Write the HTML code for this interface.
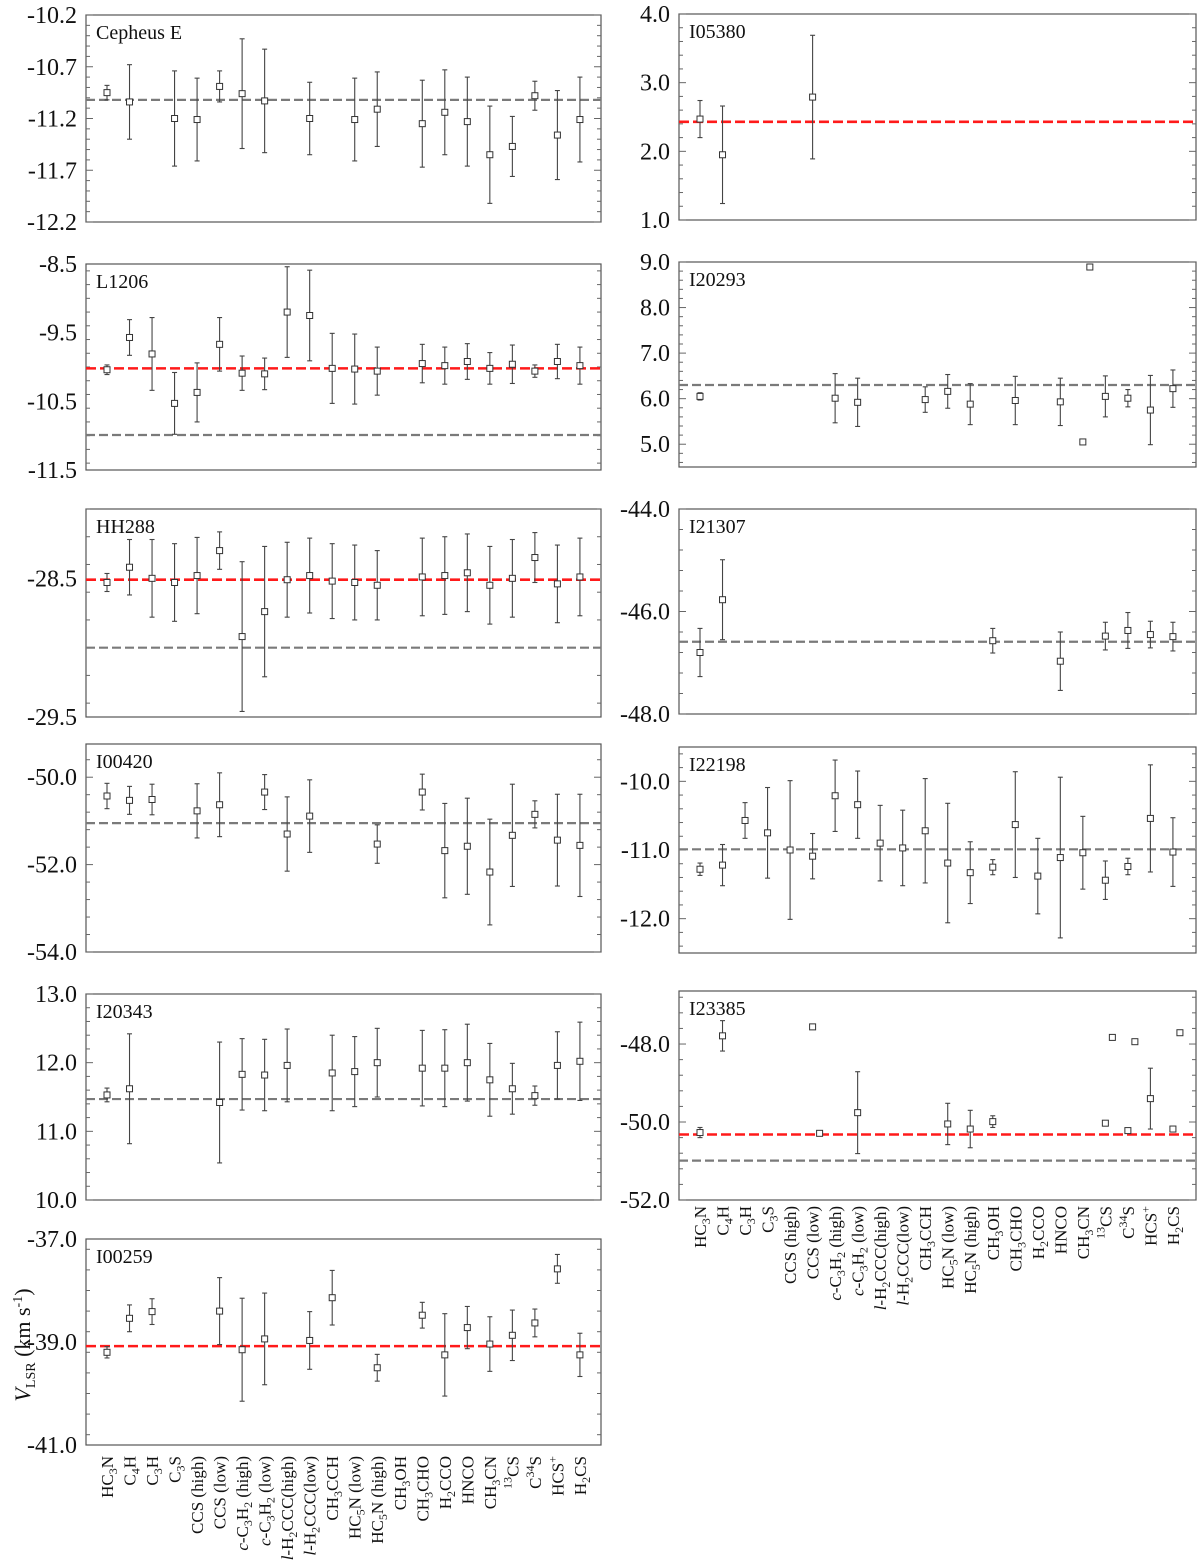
<!DOCTYPE html>
<html><head><meta charset="utf-8">
<style>
html,body{margin:0;padding:0;background:#fff;}
svg{display:block;font-family:"Liberation Serif",serif;}
</style></head>
<body>
<svg id="fig" width="1200" height="1566" viewBox="0 0 1200 1566" xmlns="http://www.w3.org/2000/svg"></svg>
<script>
// ---- categories (shared x axis) ----
const categories = ["HC_3N","C_4H","C_3H","C_3S","CCS (high)","CCS (low)","~c-C_3H_2 (high)","~c-C_3H_2 (low)","~l-H_2CCC(high)","~l-H_2CCC(low)","CH_3CCH","HC_5N (low)","HC_5N (high)","CH_3OH","CH_3CHO","H_2CCO","HNCO","CH_3CN","^{13}CS","C^{34}S","HCS^{+}","H_2CS"];
const N = null;

// ---- Cepheus E ----
const cepVals = [-10.95,-11.04,N,-11.20,-11.21,-10.89,-10.96,-11.03,N,-11.20,N,-11.21,-11.11,N,-11.25,-11.14,-11.23,-11.55,-11.47,-10.98,-11.36,-11.21];
const cepErrs = [0.07,0.36,N,0.46,0.40,0.15,0.53,0.50,N,0.35,N,0.40,0.36,N,0.42,0.41,0.43,0.47,0.29,0.14,0.43,0.41];
const cepTicks = [-10.2,-10.7,-11.2,-11.7,-12.2];
const cepGray = -11.02;

// ---- L1206 ----
const l1206Vals = [-10.04,-9.57,-9.81,-10.53,-10.37,-9.67,-10.09,-10.10,-9.20,-9.25,-10.02,-10.03,-10.06,N,-9.95,-9.98,-9.92,-10.02,-9.96,-10.06,-9.92,-9.98];
const l1206Errs = [0.07,0.26,0.53,0.45,0.43,0.39,0.25,0.23,0.66,0.66,0.51,0.51,0.35,N,0.28,0.27,0.26,0.23,0.28,0.09,0.25,0.27];
const l1206Ticks = [-8.5,-9.5,-10.5,-11.5];
const l1206Red = -10.02, l1206Gray = -10.99;

// ---- HH288 ----
const hhVals = [-28.53,-28.42,-28.50,-28.53,-28.48,-28.30,-28.92,-28.74,-28.51,-28.48,-28.52,-28.53,-28.55,N,-28.49,-28.48,-28.46,-28.55,-28.50,-28.35,-28.54,-28.49];
const hhErrs = [0.065,0.20,0.28,0.28,0.275,0.135,0.54,0.47,0.27,0.27,0.27,0.27,0.25,N,0.28,0.28,0.28,0.28,0.28,0.18,0.28,0.28];
const hhTicks = [-28.5,-29.5];
const hhRed = -28.51, hhGray = -29.0;

// ---- I00420 ----
const i00420Vals = [-50.43,-50.53,-50.51,N,-50.77,-50.63,N,-50.34,-51.30,-50.89,N,N,-51.53,N,-50.34,-51.68,-51.58,-52.17,-51.33,-50.85,-51.44,-51.56];
const i00420Errs = [0.29,0.32,0.35,N,0.62,0.73,N,0.40,0.85,0.83,N,N,0.44,N,0.41,1.08,1.10,1.21,1.17,0.31,1.05,1.17];
const i00420Ticks = [-50.0,-52.0,-54.0];
const i00420Gray = -51.05;

// ---- I20343 ----
const i20343Vals = [11.53,11.62,N,N,N,11.42,11.83,11.82,11.96,N,11.85,11.87,12.00,N,11.92,11.92,12.00,11.75,11.62,11.52,11.96,12.02];
const i20343Errs = [0.10,0.80,N,N,N,0.88,0.52,0.52,0.53,N,0.55,0.51,0.50,N,0.55,0.56,0.56,0.53,0.37,0.14,0.49,0.57];
const i20343Ticks = [13.0,12.0,11.0,10.0];
const i20343Gray = 11.47;

// ---- I00259 ----
const i00259Vals = [-39.20,-38.54,-38.41,N,N,-38.40,-39.15,-38.94,N,-38.97,-38.14,N,-39.50,N,-38.48,-39.25,-38.72,-39.04,-38.87,-38.63,-37.58,-39.25];
const i00259Errs = [0.11,0.26,0.25,N,N,0.65,1.00,0.89,N,0.56,0.53,N,0.26,N,0.25,0.80,0.41,0.53,0.49,0.27,0.28,0.42];
const i00259Ticks = [-37.0,-39.0,-41.0];
const i00259Red = -39.08;

// ---- I05380 ----
const i05380Vals = [2.47,1.95,N,N,N,2.79,N,N,N,N,N,N,N,N,N,N,N,N,N,N,N,N];
const i05380Errs = [0.27,0.71,N,N,N,0.90,N,N,N,N,N,N,N,N,N,N,N,N,N,N,N,N];
const i05380Ticks = [4.0,3.0,2.0,1.0];
const i05380Red = 2.43;

// ---- I20293 ----
const i20293Vals = [6.05,N,N,N,N,N,6.01,5.92,N,N,5.98,6.16,5.88,N,5.96,N,5.93,5.05,6.05,6.01,5.75,6.22];
const i20293Errs = [0.08,N,N,N,N,N,0.54,0.53,N,N,0.28,0.37,0.45,N,0.53,N,0.52,0.03,0.45,0.19,0.76,0.41];
const i20293Comp2 = [N,N,N,N,N,N,N,N,N,N,N,N,N,N,N,N,N,8.89,N,N,N,N];
const i20293Comp2Errs = [N,N,N,N,N,N,N,N,N,N,N,N,N,N,N,N,N,0.03,N,N,N,N];
const i20293Ticks = [9.0,8.0,7.0,6.0,5.0];
const i20293Gray = 6.30;

// ---- I21307 ----
const i21307Vals = [-46.80,-45.77,N,N,N,N,N,N,N,N,N,N,N,-46.57,N,N,-46.97,N,-46.48,-46.37,-46.45,-46.49];
const i21307Errs = [0.47,0.78,N,N,N,N,N,N,N,N,N,N,N,0.24,N,N,0.57,N,0.27,0.35,0.26,0.28];
const i21307Ticks = [-44.0,-46.0,-48.0];
const i21307Gray = -46.59;

// ---- I22198 ----
const i22198Vals = [-11.28,-11.22,-10.57,-10.75,-11.00,-11.09,-10.21,-10.34,-10.90,-10.97,-10.72,-11.19,-11.33,-11.25,-10.63,-11.38,-11.11,-11.04,-11.44,-11.24,-10.54,-11.03];
const i22198Errs = [0.09,0.30,0.26,0.66,1.01,0.33,0.52,0.49,0.55,0.55,0.76,0.87,0.45,0.11,0.77,0.55,1.17,0.53,0.28,0.12,0.78,0.50];
const i22198Ticks = [-10.0,-11.0,-12.0];
const i22198Gray = -10.99;

// ---- I23385 ----
const i23385Vals = [-50.27,-47.79,N,N,N,-47.56,N,-49.76,N,N,N,-50.05,-50.18,-49.99,N,N,N,N,-50.03,-50.22,-49.40,-50.18];
const i23385Errs = [0.13,0.39,N,N,N,0.04,N,1.05,N,N,N,0.53,0.48,0.15,N,N,N,N,0.04,0.04,0.78,0.04];
const i23385Comp2 = [N,N,N,N,N,-50.29,N,N,N,N,N,N,N,N,N,N,N,N,-47.83,-47.94,N,-47.71];
const i23385Comp2Errs = [N,N,N,N,N,0.04,N,N,N,N,N,N,N,N,N,N,N,N,0.04,0.04,N,0.04];
const i23385Ticks = [-48.0,-50.0,-52.0];
const i23385Red = -50.32, i23385Gray = -50.99;

const SVGNS = "http://www.w3.org/2000/svg";
const fig = document.getElementById('fig');
function mk(tag, attrs, parent){
  const e = document.createElementNS(SVGNS, tag);
  for (const k in attrs) e.setAttribute(k, attrs[k]);
  (parent||fig).appendChild(e);
  return e;
}
function richText(el, s, small){
  let i=0, italic=false, off=0;
  function add(txt, shift, size){
    const a={};
    const d = shift - off;
    if(d!==0) a.dy=d;
    if(size) a['font-size']=size;
    const t=mk('tspan',a,el);
    t.textContent=txt;
    off=shift;
    return t;
  }
  while(i<s.length){
    const c=s[i];
    if(c==='~'){italic=true;i++;continue;}
    if(c==='_'){add(s[i+1],4,small);i+=2;continue;}
    if(c==='^'){const j=s.indexOf('}',i);add(s.slice(i+2,j),-7,small);i=j+1;continue;}
    const t=add(c,0,null);
    if(italic){t.setAttribute('font-style','italic');italic=false;}
    i++;
  }
}

function panel(p){
  const g = mk('g',{});
  
  
  const yScale = v => p.y1 - (v - p.min)/(p.max - p.min)*(p.y1 - p.y0);
  const xScale = i => p.x0 + 21 + i*22.52;
  const fr = mk('rect',{x:p.x0,y:p.y0,width:p.x1-p.x0,height:p.y1-p.y0,fill:'none',stroke:'#555','stroke-width':1.2},g);
  
  
  const start = Math.ceil((p.min-1e-9)/p.minor)*p.minor;
  for(let v=start; v<=p.max+1e-9; v+=p.minor){
    const y=yScale(v);
    const isMajor = p.ticks.some(t=>Math.abs(t-v)<1e-6);
    const L = isMajor?7:4;
    const t1 = mk('line',{x1:p.x0,x2:p.x0+L,y1:y,y2:y,stroke:'#666','stroke-width':1},g);
    
    
    const t2 = mk('line',{x1:p.x1,x2:p.x1-L,y1:y,y2:y,stroke:'#666','stroke-width':1},g);
    
    
  }
  p.ticks.forEach(t=>{
    const tx = mk('text',{x:p.x0-9,y:yScale(t)+8,'text-anchor':'end','font-size':24,fill:'#111'},g);
    tx.textContent = t.toFixed(1);
    
    
  });
  const ti = mk('text',{x:p.x0+10,y:p.y0+24,'font-size':20,fill:'#111'},g);
  ti.textContent = p.title;
  
  
  if(p.gray!=null){
    const l = mk('line',{x1:p.x0,x2:p.x1,y1:yScale(p.gray),y2:yScale(p.gray),stroke:'#7a7a7a','stroke-width':2.2,'stroke-dasharray':'9 4'},g);
    
    
  }
  if(p.red!=null){
    const l = mk('line',{x1:p.x0,x2:p.x1,y1:yScale(p.red),y2:yScale(p.red),stroke:'#ff1a1a','stroke-width':2.6,'stroke-dasharray':'10 4'},g);
    
    
  }
  function series(vals, errs, dx){
    vals.forEach((v,i)=>{
      if(v==null) return;
      const x=xScale(i)+dx, y=yScale(v), e=errs[i]||0;
      const yt=yScale(v+e), yb=yScale(v-e);
      const eg = mk('g',{stroke:'#444','stroke-width':1.1,fill:'none'},g);
      
      
      mk('line',{x1:x,x2:x,y1:yt,y2:yb},eg);
      mk('line',{x1:x-2.5,x2:x+2.5,y1:yt,y2:yt},eg);
      mk('line',{x1:x-2.5,x2:x+2.5,y1:yb,y2:yb},eg);
      const m = mk('rect',{x:x-3,y:y-3,width:6,height:6,fill:'#fff',stroke:'#333','stroke-width':1},g);
      
      
    });
  }
  series(p.vals,p.errs,0);
  if(p.comp2) series(p.comp2,p.comp2errs,7);
  if(p.catY){
    categories.forEach((c,i)=>{
      const x=xScale(i)+6;
      const t = mk('text',{transform:`translate(${x},${p.catY}) rotate(-90)`,'text-anchor':'end','font-size':17,fill:'#111'},g);
      richText(t,c,12);
      
      
    });
  }
}

const LX0=86, LX1=601, RX0=679, RX1=1196;
panel({name:'cepheus-e',title:'Cepheus E',x0:LX0,x1:LX1,y0:15,y1:222,min:-12.2,max:-10.2,minor:0.1,ticks:cepTicks,vals:cepVals,errs:cepErrs,gray:cepGray});
panel({name:'l1206',title:'L1206',x0:LX0,x1:LX1,y0:264,y1:470,min:-11.5,max:-8.5,minor:0.2,ticks:l1206Ticks,vals:l1206Vals,errs:l1206Errs,red:l1206Red,gray:l1206Gray});
panel({name:'hh288',title:'HH288',x0:LX0,x1:LX1,y0:509,y1:717,min:-29.5,max:-28.0,minor:0.2,ticks:hhTicks,vals:hhVals,errs:hhErrs,red:hhRed,gray:hhGray});
panel({name:'i00420',title:'I00420',x0:LX0,x1:LX1,y0:744,y1:952,min:-54.0,max:-49.24,minor:0.4,ticks:i00420Ticks,vals:i00420Vals,errs:i00420Errs,gray:i00420Gray});
panel({name:'i20343',title:'I20343',x0:LX0,x1:LX1,y0:994,y1:1200,min:10,max:13,minor:0.2,ticks:i20343Ticks,vals:i20343Vals,errs:i20343Errs,gray:i20343Gray});
panel({name:'i00259',title:'I00259',x0:LX0,x1:LX1,y0:1239,y1:1445,min:-41,max:-37,minor:0.4,ticks:i00259Ticks,vals:i00259Vals,errs:i00259Errs,red:i00259Red,catY:1456});
panel({name:'i05380',title:'I05380',x0:RX0,x1:RX1,y0:14,y1:220,min:1,max:4,minor:0.2,ticks:i05380Ticks,vals:i05380Vals,errs:i05380Errs,red:i05380Red});
panel({name:'i20293',title:'I20293',x0:RX0,x1:RX1,y0:262,y1:467,min:4.5,max:9,minor:0.2,ticks:i20293Ticks,vals:i20293Vals,errs:i20293Errs,comp2:i20293Comp2,comp2errs:i20293Comp2Errs,gray:i20293Gray});
panel({name:'i21307',title:'I21307',x0:RX0,x1:RX1,y0:509,y1:714,min:-48,max:-44,minor:0.4,ticks:i21307Ticks,vals:i21307Vals,errs:i21307Errs,gray:i21307Gray});
panel({name:'i22198',title:'I22198',x0:RX0,x1:RX1,y0:747,y1:953,min:-12.5,max:-9.5,minor:0.2,ticks:i22198Ticks,vals:i22198Vals,errs:i22198Errs,gray:i22198Gray});
panel({name:'i23385',title:'I23385',x0:RX0,x1:RX1,y0:991,y1:1200,min:-52,max:-46.64,minor:0.4,ticks:i23385Ticks,vals:i23385Vals,errs:i23385Errs,comp2:i23385Comp2,comp2errs:i23385Comp2Errs,red:i23385Red,gray:i23385Gray,catY:1206});

const yt = mk('text',{transform:'translate(30,1345) rotate(-90)','text-anchor':'middle','font-size':22,fill:'#111'});


const a = mk('tspan',{'font-style':'italic'},yt); a.textContent='V';
const b = mk('tspan',{dy:5,'font-size':14},yt); b.textContent='LSR';
const c = mk('tspan',{dy:-5},yt); c.textContent=' (km s';
const d = mk('tspan',{dy:-8,'font-size':14},yt); d.textContent='-1';
const e = mk('tspan',{dy:8},yt); e.textContent=')';
</script>
</body></html>
